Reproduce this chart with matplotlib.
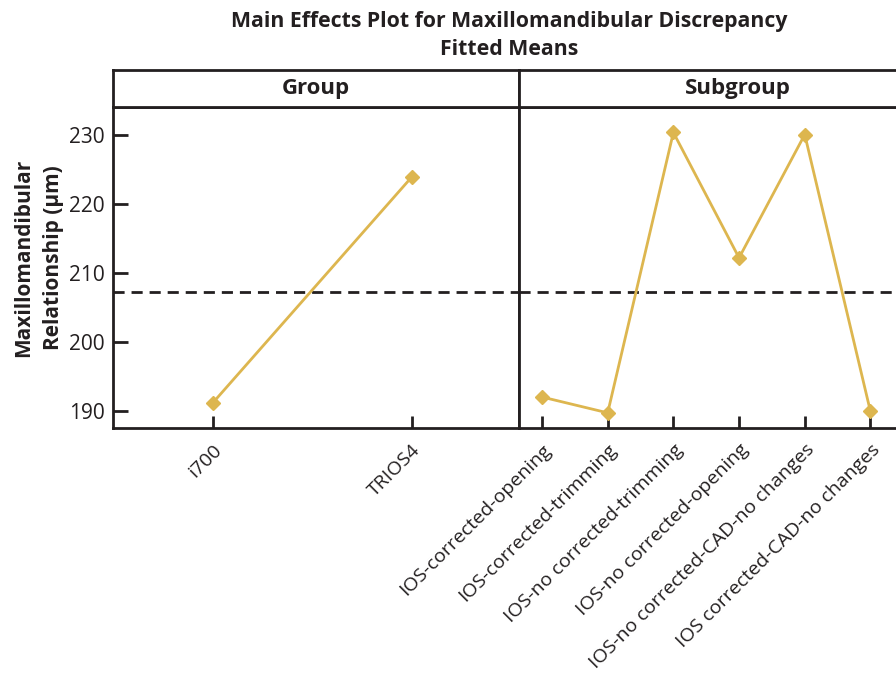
import matplotlib.pyplot as plt

plt.rcParams['font.family'] = ['Open Sans', 'DejaVu Sans']

# fitted means per factor level
group_levels = ['i700', 'TRIOS4']
group_means = [191.1, 223.9]

subgroup_levels = ['IOS-corrected-opening', 'IOS-corrected-trimming',
                   'IOS-no corrected-trimming', 'IOS-no corrected-opening',
                   'IOS-no corrected-CAD-no changes', 'IOS corrected-CAD-no changes']
subgroup_means = [192.0, 189.7, 230.4, 212.2, 230.1, 189.9]

grand_mean = 207.3
y_ticks = [190, 200, 210, 220, 230]

gold = '#DDB64F'
ink = '#231F20'

fig = plt.figure(figsize=(8.96, 6.77), dpi=100)

W, H = 896, 677
def box(x0, y0, x1, y1):
    return [x0 / W, 1 - y1 / H, (x1 - x0) / W, (y1 - y0) / H]

ax1 = fig.add_axes(box(113, 107, 519, 428))
ax2 = fig.add_axes(box(519, 107, 900, 428), sharey=ax1)
st1 = fig.add_axes(box(113, 70, 519, 107))
st2 = fig.add_axes(box(519, 70, 900, 107))

panels = [(ax1, st1, group_levels, group_means, 'Group', (-0.5, 1.54)),
          (ax2, st2, subgroup_levels, subgroup_means, 'Subgroup', (-0.35, 5.45))]

for ax, st, levels, means, name, xlim in panels:
    xs = list(range(len(levels)))
    ax.plot(xs, means, color=gold, lw=2, marker='D', ms=7, zorder=3)
    ax.axhline(grand_mean, color=ink, lw=2, ls=(0, (4, 2.5)), zorder=2)
    ax.set_xlim(*xlim)
    ax.set_xticks(xs)
    ax.set_xticklabels(levels, rotation=45, ha='right', rotation_mode='anchor',
                       fontsize=14, color=ink)
    ax.tick_params(axis='x', direction='in', length=9, width=2, color=ink, pad=9)
    for s in ax.spines.values():
        s.set_linewidth(2)
        s.set_color(ink)

    st.set_xticks([])
    st.set_yticks([])
    for s in st.spines.values():
        s.set_linewidth(2)
        s.set_color(ink)
    st.text(0.5 if name == 'Group' else 0.575, 0.5, name, transform=st.transAxes,
            ha='center', va='center', fontsize=16, fontweight='bold', color=ink)

ax1.set_ylim(187.5, 234.1)
ax1.set_yticks(y_ticks)
ax1.tick_params(axis='y', direction='in', length=11, width=2, color=ink,
                labelsize=15, labelcolor=ink, pad=6)
ax2.tick_params(axis='y', left=False, labelleft=False)
ax2.spines['right'].set_visible(False)
st2.spines['right'].set_visible(False)

ax1.set_ylabel('Maxillomandibular\nRelationship (µm)', fontsize=15,
               fontweight='bold', color=ink, labelpad=0, linespacing=1.6)
ax1.yaxis.set_label_coords(-0.12, 0.53)

fig.text(0.568, 0.968, 'Main Effects Plot for Maxillomandibular Discrepancy',
         ha='center', va='center', fontsize=15.3, fontweight='bold', color=ink)
fig.text(0.568, 0.927, 'Fitted Means', ha='center', va='center',
         fontsize=15.3, fontweight='bold', color=ink)

fig.savefig('out.png', dpi=100)
